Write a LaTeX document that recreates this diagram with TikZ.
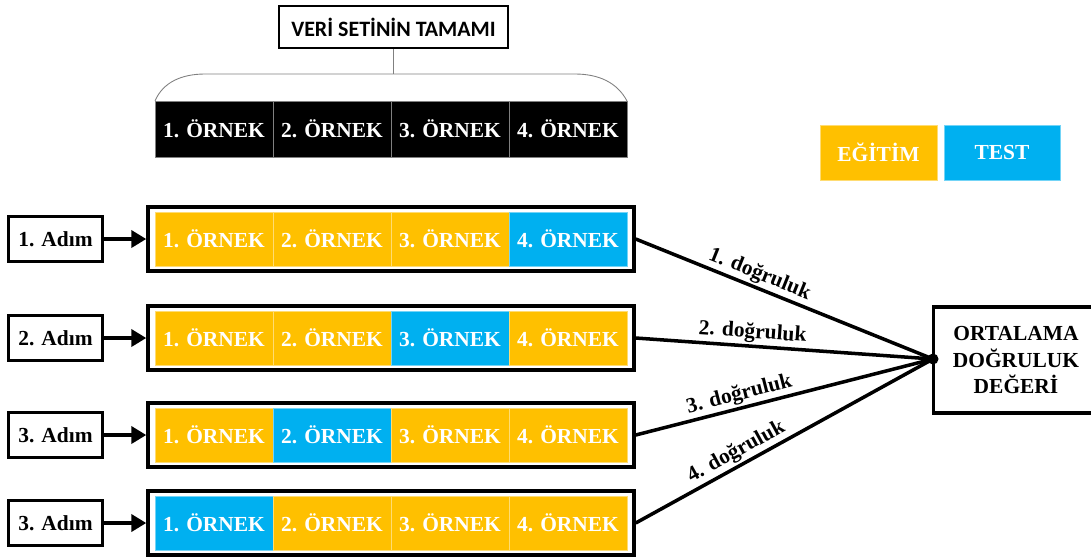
\documentclass[tikz,border=0pt]{standalone}
\usepackage{fontspec}
\setmainfont{Liberation Serif}
\newfontfamily\baslikfont{Carlito}
\usetikzlibrary{arrows.meta,positioning}
\definecolor{egitim}{HTML}{FFC000}
\definecolor{testc}{HTML}{00B0F0}

\begin{document}
\begin{tikzpicture}[x=0.02cm, y=-0.02cm,
    every node/.style={font=\fontsize{12.2}{15}\selectfont\bfseries},
    hucre/.style={minimum width=2.36cm, minimum height=1.08cm, inner sep=0pt,
      text=white, fill=#1, draw=white!45!#1, line width=0.4pt},
    adim/.style={draw, line width=1.7pt, minimum width=1.88cm,
      minimum height=0.9cm, inner sep=0pt},
    satir/.style={draw, line width=2pt, minimum width=9.72cm,
      minimum height=1.28cm, inner sep=0pt},
    ok/.style={line width=2.2pt, -{Triangle[length=3mm, width=3.4mm]}},
    baglanti/.style={line width=2pt}]
  \useasboundingbox (0,0) rectangle (1091,556);

  % whole data set
  \node[draw, line width=1.4pt, minimum width=4.58cm, minimum height=0.84cm,
    font=\baslikfont\fontsize{12.5}{15}\selectfont\bfseries]
    (veri) at (393.5,27) {VERİ SETİNİN TAMAMI};
  \coordinate (tepe) at (393.5,74);
  \draw[gray, line width=0.5pt] (veri.south) -- (tepe);
  \draw[gray, line width=0.5pt] (155,101) .. controls (163,82) and (182,74) .. (205,74)
    -- (575,74) .. controls (598,74) and (617,82) .. (627,101);
  \foreach \c in {1,...,4}
    \node[hucre=black, draw=gray, minimum height=1.12cm]
      (ornek\c) at ({96+118*\c},129) {\c. ÖRNEK};

  % legend
  \node[hucre=egitim, minimum width=2.34cm, minimum height=1.1cm]
    (egitim) at (878.5,152.5) {EĞİTİM};
  \node[hucre=testc, minimum width=2.32cm, minimum height=1.1cm]
    (test) at (1002,152.5) {TEST};

  % result (its right side runs off the page)
  \node[draw, line width=2pt, minimum width=3.3cm, minimum height=2.12cm,
    align=center] (sonuc) at (1016,360) {ORTALAMA\\DOĞRULUK\\DEĞERİ};
  \node[circle, fill, inner sep=0pt, minimum size=0.22cm] (ort) at (933,359) {};

  % steps
  \foreach \r/\y/\t/\s/\p in {1/239/4/1/0.40, 2/338/3/2/0.39,
                              3/435/2/3/0.36, 4/523/1/3/0.36} {
    \node[adim] (adim\r) at (55.5,\y) {\s. Adım};
    \node[satir] (satir\r) at (391,\y) {};
    \foreach \c in {1,...,4} {
      \pgfmathparse{ifthenelse(\c==\t,"testc","egitim")}
      \edef\renk{\pgfmathresult}
      \node[hucre=\renk] (h\r\c) at ({96+118*\c},\y) {\c. ÖRNEK};
    }
    \draw[ok] (adim\r) -- (satir\r);
    \draw[baglanti] (satir\r.east) -- node[sloped, above, pos=\p, inner sep=1pt]
      {\r. doğruluk} (ort.center);
  }
\end{tikzpicture}
\end{document}
